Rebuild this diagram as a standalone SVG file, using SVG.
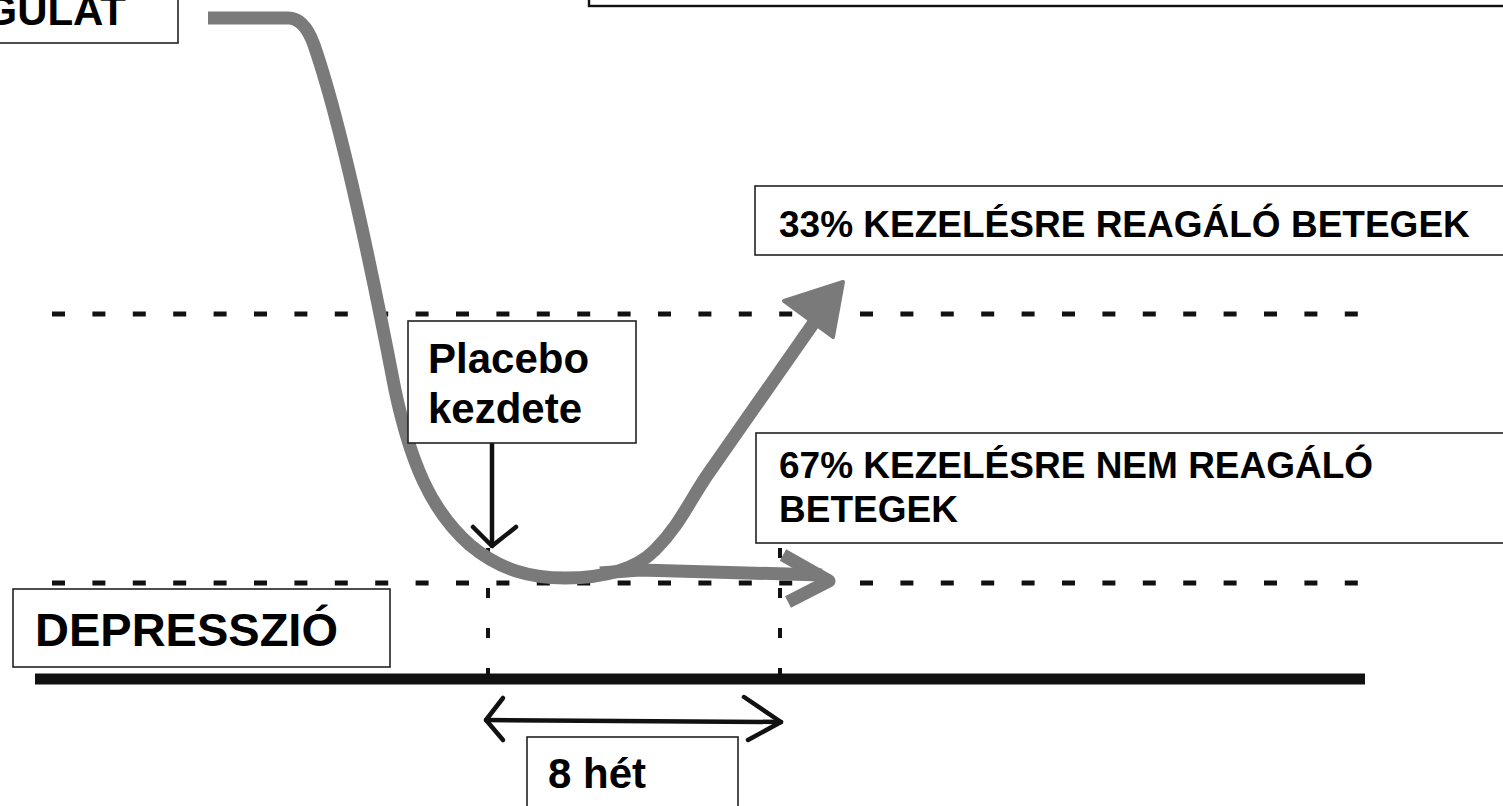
<svg xmlns="http://www.w3.org/2000/svg" width="1503" height="806" viewBox="0 0 1503 806">
  <style>
    .box { fill: #ffffff; stroke: #222222; stroke-width: 1.6; }
    .lbl { font-family: "Liberation Sans", Arial, sans-serif; font-weight: bold; fill: #000000; }
    .big { font-size: 42px; }
    .mid { font-size: 37px; }
    .dash-h { stroke: #111111; stroke-width: 5; stroke-dasharray: 13 27.4; fill: none; }
    .dash-v { stroke: #111111; stroke-width: 4; stroke-dasharray: 10 30; fill: none; }
    .curve { stroke: #7a7a7a; stroke-width: 13; fill: none; stroke-linejoin: round; }
    .thin-arrow { stroke: #111111; stroke-width: 4.5; fill: none; stroke-linecap: round; stroke-linejoin: round; }
  </style>
  <rect width="1503" height="806" fill="#ffffff"/>

  <!-- reference levels, axis and curve -->
  <g id="connectors">
    <line class="dash-h" x1="52" y1="314" x2="1372" y2="314"/>
    <line class="dash-h" x1="52" y1="583" x2="1372" y2="583"/>
    <line class="dash-v" x1="488" y1="548" x2="488" y2="680"/>
    <line class="dash-v" x1="780" y1="548" x2="780" y2="680"/>
    <!-- time axis -->
    <line x1="35" y1="679" x2="1365" y2="679" stroke="#111111" stroke-width="11"/>

    <!-- mood curve -->
    <path class="curve" d="M208,18 L288,18 C300,18 308,28 314,45 C340,120 370,260 395,390 C410,460 430,510 470,545 C500,570 530,578 565,578 C605,578 635,570 655,550 C680,525 690,500 708,474 L822,311"/>
    <polygon points="843,282 784,301 833,337" fill="#7a7a7a" stroke="#7a7a7a" stroke-width="4" stroke-linejoin="round"/>
    <!-- flat branch -->
    <path class="curve" d="M600,573 L640,570 L822,575" stroke-width="14"/>
    <polyline class="curve" points="783,555 829,581 788,602" stroke-linejoin="miter" stroke-width="13"/>

    <!-- placebo start marker -->
    <line class="thin-arrow" x1="492" y1="443" x2="492" y2="546"/>
    <polyline class="thin-arrow" points="473,527 492,546 516,527"/>

    <!-- 8 week span -->
    <line class="thin-arrow" x1="486" y1="720" x2="781" y2="722"/>
    <polyline class="thin-arrow" points="503,698 486,720 503,740"/>
    <polyline class="thin-arrow" points="744,697 781,722 748,740"/>
  </g>

  <g id="node-mood">
    <rect class="box" x="-10" y="-10" width="188" height="53"/>
    <text class="lbl big" x="126" y="25" text-anchor="end">GULAT</text>
  </g>

  <g id="node-title">
    <rect x="589" y="-10" width="1000" height="16" fill="#ffffff" stroke="#111111" stroke-width="2.4"/>
  </g>

  <g id="node-responders">
    <rect class="box" x="755" y="186" width="760" height="69"/>
    <text class="lbl mid" x="779" y="237">33% KEZELÉSRE REAGÁLÓ BETEGEK</text>
  </g>

  <g id="node-placebo">
    <rect class="box" x="408" y="321" width="228" height="122"/>
    <text class="lbl big" x="428" y="373">Placebo</text>
    <text class="lbl big" x="428" y="423">kezdete</text>
  </g>

  <g id="node-nonresponders">
    <rect class="box" x="756" y="433" width="760" height="110"/>
    <text class="lbl mid" x="779" y="478">67% KEZELÉSRE NEM REAGÁLÓ</text>
    <text class="lbl mid" x="779" y="522">BETEGEK</text>
  </g>

  <g id="node-depression">
    <rect class="box" x="13" y="589" width="377" height="78"/>
    <text class="lbl" x="35" y="646" font-size="47">DEPRESSZIÓ</text>
  </g>

  <g id="node-weeks">
    <rect class="box" x="527" y="737" width="211" height="80"/>
    <text class="lbl big" x="548" y="788">8 hét</text>
  </g>
</svg>
